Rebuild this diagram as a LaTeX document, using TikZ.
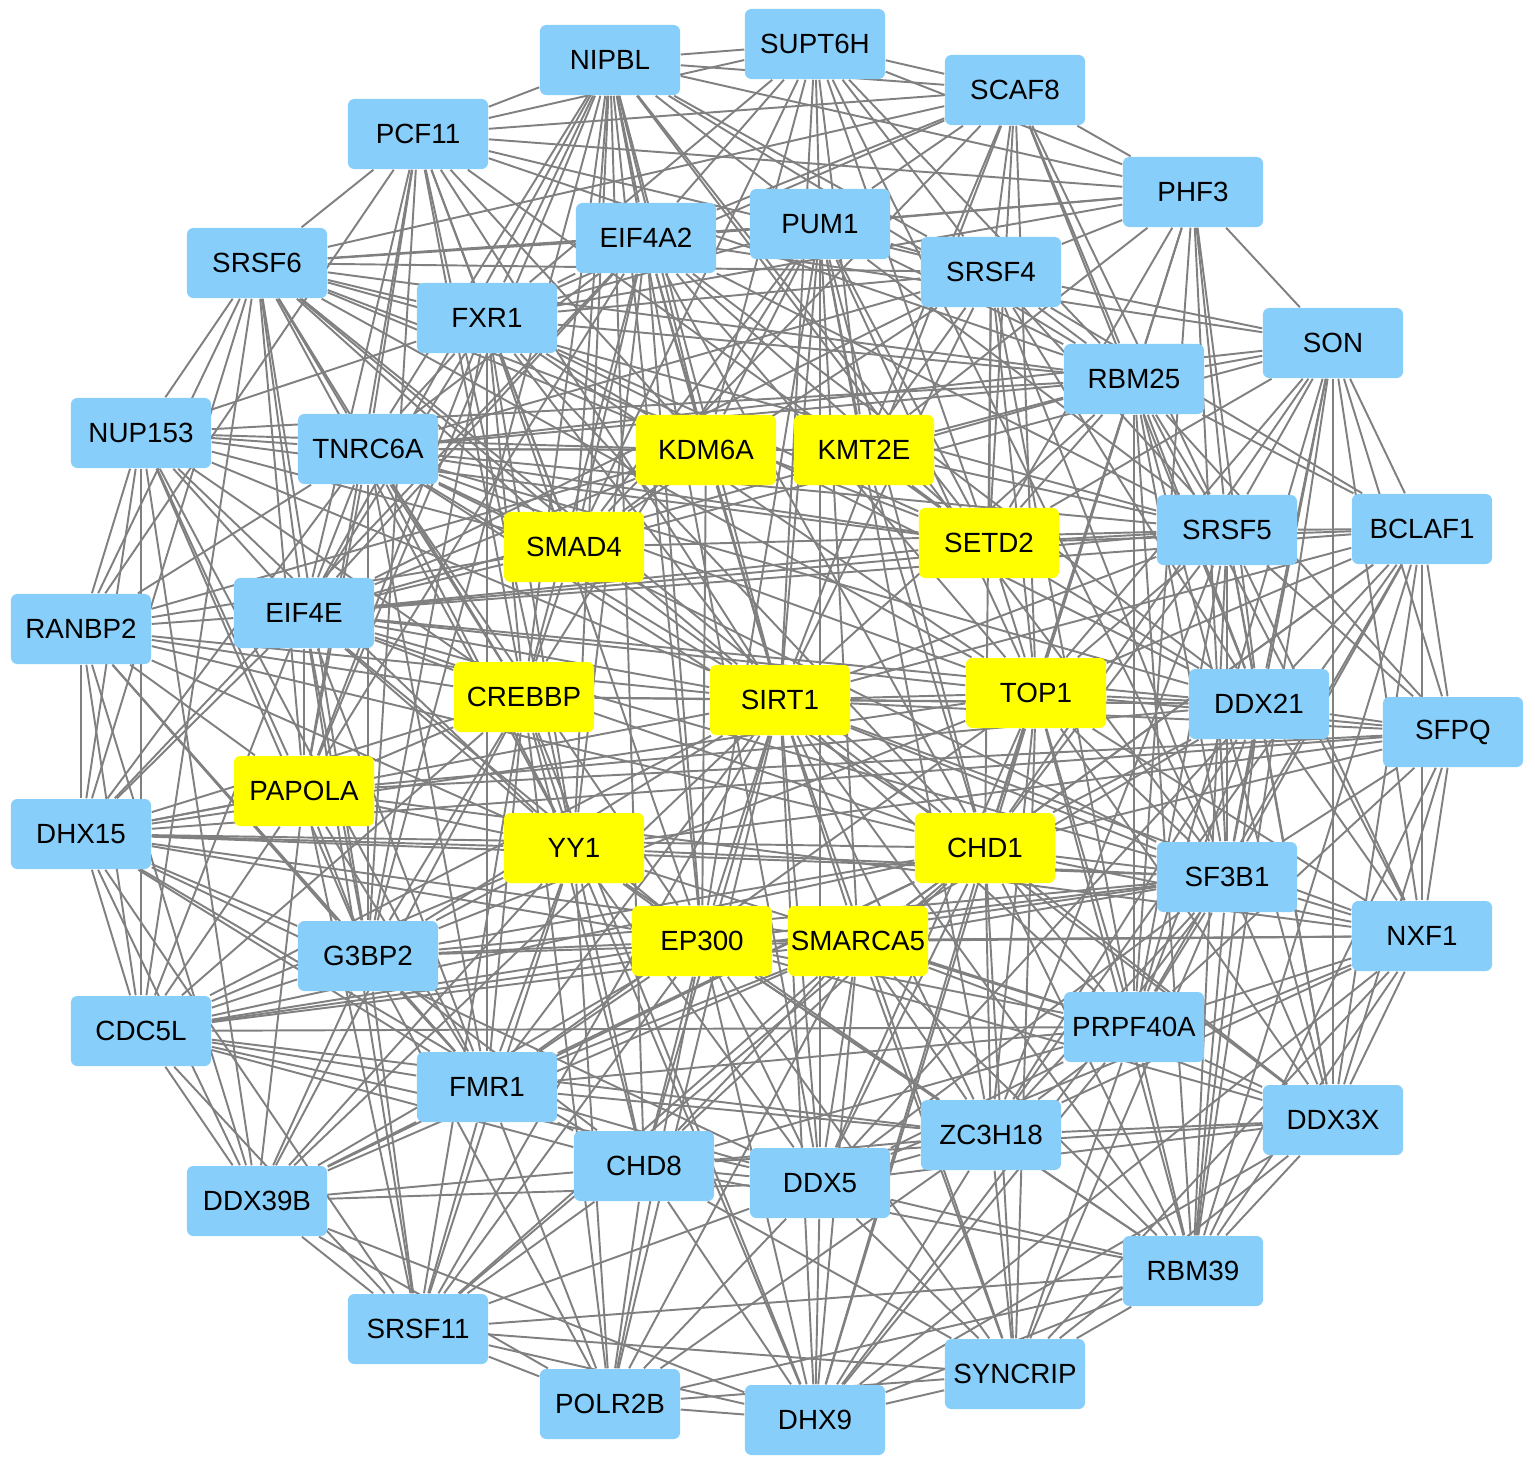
\documentclass[tikz,border=0pt]{standalone}
\usepackage{fontspec}
\setmainfont{Liberation Sans}
\usepackage{xcolor}
\usepackage{tikz}
\usetikzlibrary{backgrounds}
\tikzset{
  gene/.style={rounded corners=1.8pt, align=center, font=\fontsize{7.9}{9}\selectfont, minimum width=1.4cm, minimum height=0.7cm, inner sep=0pt, fill=#1},
  gene/.default=nodeblue,
  edge/.style={draw=edgegray, line width=0.55pt},
}
\definecolor{nodeblue}{HTML}{87CEFA}
\definecolor{hub}{HTML}{FFFF00}
\definecolor{edgegray}{HTML}{808080}

\begin{document}
\begin{tikzpicture}[x=0.01cm, y=-0.01cm]
  \useasboundingbox (0,0) rectangle (1535,1468);
  % outer ring and middle ring
  \node[gene] (nipbl) at (610,60) {NIPBL};
  \node[gene] (supt) at (815,44) {SUPT6H};
  \node[gene] (scaf) at (1015,90) {SCAF8};
  \node[gene] (pcf) at (418,134) {PCF11};
  \node[gene] (phf) at (1193,192) {PHF3};
  \node[gene] (eif4a2) at (646,238) {EIF4A2};
  \node[gene] (pum) at (820,224) {PUM1};
  \node[gene] (srsf4) at (991,272) {SRSF4};
  \node[gene] (srsf6) at (257,263) {SRSF6};
  \node[gene] (fxr) at (487,318) {FXR1};
  \node[gene] (son) at (1333,343) {SON};
  \node[gene] (rbm25) at (1134,379) {RBM25};
  \node[gene] (nup) at (141,433) {NUP153};
  \node[gene] (tnrc) at (368,449) {TNRC6A};
  \node[gene] (srsf5) at (1227,530) {SRSF5};
  \node[gene] (bclaf) at (1422,529) {BCLAF1};
  \node[gene] (ranbp) at (81,629) {RANBP2};
  \node[gene] (eif4e) at (304,613) {EIF4E};
  \node[gene] (ddx21) at (1259,704) {DDX21};
  \node[gene] (sfpq) at (1453,732) {SFPQ};
  \node[gene] (dhx15) at (81,834) {DHX15};
  \node[gene] (sf3b1) at (1227,877) {SF3B1};
  \node[gene] (nxf) at (1422,936) {NXF1};
  \node[gene] (g3bp) at (368,956) {G3BP2};
  \node[gene] (cdc5l) at (141,1031) {CDC5L};
  \node[gene] (prpf) at (1134,1027) {PRPF40A};
  \node[gene] (fmr) at (487,1087) {FMR1};
  \node[gene] (ddx3x) at (1333,1120) {DDX3X};
  \node[gene] (zc3h) at (991,1135) {ZC3H18};
  \node[gene] (chd8) at (644,1166) {CHD8};
  \node[gene] (ddx5) at (820,1183) {DDX5};
  \node[gene] (ddx39b) at (257,1201) {DDX39B};
  \node[gene] (rbm39) at (1193,1271) {RBM39};
  \node[gene] (srsf11) at (418,1329) {SRSF11};
  \node[gene] (syncrip) at (1015,1374) {SYNCRIP};
  \node[gene] (polr) at (610,1404) {POLR2B};
  \node[gene] (dhx9) at (815,1420) {DHX9};
  % hub genes
  \node[gene=hub] (kdm) at (706,450) {KDM6A};
  \node[gene=hub] (kmt) at (864,450) {KMT2E};
  \node[gene=hub] (smad) at (574,547) {SMAD4};
  \node[gene=hub] (setd) at (989,543) {SETD2};
  \node[gene=hub] (crebbp) at (524,697) {CREBBP};
  \node[gene=hub] (sirt) at (780,700) {SIRT1};
  \node[gene=hub] (top) at (1036,693) {TOP1};
  \node[gene=hub] (papola) at (304,791) {PAPOLA};
  \node[gene=hub] (yy) at (574,848) {YY1};
  \node[gene=hub] (chd1) at (985,848) {CHD1};
  \node[gene=hub] (ep300) at (702,941) {EP300};
  \node[gene=hub] (smarca) at (858,941) {SMARCA5};
  % interactions
  \begin{scope}[on background layer]
  \foreach \a/\b in {nipbl/supt, nipbl/pcf, nipbl/scaf, nipbl/phf, nipbl/srsf4, nipbl/pum, nipbl/eif4a2, nipbl/fxr, nipbl/tnrc, nipbl/eif4e, nipbl/smad, nipbl/kdm, nipbl/crebbp, nipbl/sirt, nipbl/yy, nipbl/ep300, nipbl/chd8, nipbl/g3bp, nipbl/papola, nipbl/setd, nipbl/sf3b1, nipbl/ddx5, nipbl/rbm25,
    supt/scaf, supt/pcf, supt/pum, supt/eif4a2, supt/srsf4, supt/kdm, supt/kmt, supt/sirt, supt/setd, supt/smad, supt/rbm25, supt/sf3b1, supt/phf, supt/fxr,
    scaf/phf, scaf/pcf, scaf/pum, scaf/eif4a2, scaf/srsf4, scaf/rbm25, scaf/kmt, scaf/setd, scaf/top, scaf/sirt, scaf/ddx21, scaf/srsf5, scaf/smad, scaf/fxr, scaf/srsf6,
    pcf/srsf6, pcf/phf, pcf/tnrc, pcf/eif4e, pcf/fxr, pcf/kdm, pcf/smad, pcf/sirt, pcf/setd, pcf/rbm25, pcf/srsf4, pcf/g3bp, pcf/papola, pcf/crebbp, pcf/yy, pcf/ranbp,
    phf/son, phf/srsf4, phf/rbm25, phf/srsf5, phf/ddx21, phf/setd, phf/top, phf/sf3b1, phf/fxr, phf/eif4a2, phf/kmt, phf/pum, phf/prpf,
    eif4a2/pum, eif4a2/srsf6, eif4a2/fxr, eif4a2/tnrc, eif4a2/kdm, eif4a2/smad, eif4a2/crebbp, eif4a2/sirt, eif4a2/top, eif4a2/setd, eif4a2/chd1, eif4a2/yy, eif4a2/ep300, eif4a2/ddx21, eif4a2/son, eif4a2/srsf5, eif4a2/eif4e, eif4a2/papola, eif4a2/dhx15,
    pum/srsf4, pum/srsf6, pum/fxr, pum/kdm, pum/kmt, pum/sirt, pum/smad, pum/setd, pum/top, pum/chd1, pum/ep300, pum/smarca, pum/ddx5, pum/zc3h, pum/crebbp, pum/rbm25, pum/srsf5,
    srsf4/srsf6, srsf4/fxr, srsf4/rbm25, srsf4/son, srsf4/srsf5, srsf4/bclaf, srsf4/ddx21, srsf4/sf3b1, srsf4/prpf, srsf4/setd, srsf4/kmt, srsf4/top, srsf4/sirt, srsf4/chd1, srsf4/smad, srsf4/tnrc, srsf4/eif4e,
    srsf6/nup, srsf6/tnrc, srsf6/fxr, srsf6/eif4e, srsf6/ranbp, srsf6/dhx15, srsf6/papola, srsf6/g3bp, srsf6/smad, srsf6/kdm, srsf6/crebbp, srsf6/yy, srsf6/sirt, srsf6/chd1, srsf6/setd, srsf6/rbm25, srsf6/srsf5, srsf6/cdc5l, srsf6/top,
    fxr/tnrc, fxr/kdm, fxr/smad, fxr/crebbp, fxr/sirt, fxr/eif4e, fxr/g3bp, fxr/papola, fxr/yy, fxr/top, fxr/setd, fxr/rbm25, fxr/ddx21, fxr/chd1, fxr/nup, fxr/ep300, fxr/fmr,
    son/rbm25, son/bclaf, son/srsf5, son/ddx21, son/sfpq, son/sf3b1, son/nxf, son/prpf, son/ddx3x, son/rbm39, son/setd, son/top, son/tnrc, son/chd1, son/smad,
    rbm25/srsf5, rbm25/bclaf, rbm25/ddx21, rbm25/sfpq, rbm25/sf3b1, rbm25/prpf, rbm25/setd, rbm25/top, rbm25/kmt, rbm25/sirt, rbm25/chd1, rbm25/tnrc, rbm25/nup, rbm25/rbm39, rbm25/ddx3x, rbm25/nxf, rbm25/eif4e,
    nup/ranbp, nup/tnrc, nup/eif4e, nup/dhx15, nup/cdc5l, nup/papola, nup/g3bp, nup/ddx39b, nup/kdm, nup/crebbp, nup/sirt, nup/yy, nup/smad, nup/setd, nup/fmr,
    tnrc/eif4e, tnrc/ranbp, tnrc/kdm, tnrc/kmt, tnrc/smad, tnrc/crebbp, tnrc/sirt, tnrc/setd, tnrc/top, tnrc/yy, tnrc/papola, tnrc/g3bp, tnrc/dhx15, tnrc/ddx21, tnrc/srsf5, tnrc/sf3b1, tnrc/chd1, tnrc/ep300, tnrc/fmr,
    srsf5/bclaf, srsf5/ddx21, srsf5/sfpq, srsf5/sf3b1, srsf5/nxf, srsf5/prpf, srsf5/setd, srsf5/top, srsf5/chd1, srsf5/sirt, srsf5/kmt, srsf5/smad, srsf5/eif4e, srsf5/ddx3x, srsf5/rbm39, srsf5/zc3h,
    bclaf/sfpq, bclaf/ddx21, bclaf/sf3b1, bclaf/nxf, bclaf/prpf, bclaf/ddx3x, bclaf/rbm39, bclaf/top, bclaf/chd1, bclaf/setd, bclaf/sirt, bclaf/eif4e, bclaf/smarca, bclaf/zc3h,
    ranbp/eif4e, ranbp/dhx15, ranbp/cdc5l, ranbp/papola, ranbp/g3bp, ranbp/crebbp, ranbp/smad, ranbp/yy, ranbp/fmr, ranbp/ddx39b, ranbp/kdm, ranbp/sirt, ranbp/chd1,
    eif4e/dhx15, eif4e/papola, eif4e/g3bp, eif4e/cdc5l, eif4e/smad, eif4e/crebbp, eif4e/yy, eif4e/sirt, eif4e/top, eif4e/setd, eif4e/ddx21, eif4e/kdm, eif4e/srsf11, eif4e/fmr, eif4e/chd1, eif4e/ep300, eif4e/sf3b1,
    ddx21/sfpq, ddx21/sf3b1, ddx21/nxf, ddx21/prpf, ddx21/ddx3x, ddx21/rbm39, ddx21/top, ddx21/chd1, ddx21/setd, ddx21/sirt, ddx21/smarca, ddx21/crebbp, ddx21/papola, ddx21/zc3h, ddx21/ddx5,
    sfpq/nxf, sfpq/sf3b1, sfpq/ddx3x, sfpq/rbm39, sfpq/prpf, sfpq/top, sfpq/chd1, sfpq/sirt, sfpq/papola, sfpq/yy, sfpq/dhx15,
    dhx15/papola, dhx15/g3bp, dhx15/cdc5l, dhx15/ddx39b, dhx15/srsf11, dhx15/fmr, dhx15/yy, dhx15/crebbp, dhx15/sirt, dhx15/chd1, dhx15/smarca, dhx15/ep300, dhx15/chd8, dhx15/ddx5, dhx15/top, dhx15/sf3b1,
    sf3b1/nxf, sf3b1/prpf, sf3b1/ddx3x, sf3b1/rbm39, sf3b1/zc3h, sf3b1/chd1, sf3b1/top, sf3b1/sirt, sf3b1/smarca, sf3b1/ep300, sf3b1/yy, sf3b1/g3bp, sf3b1/cdc5l, sf3b1/ddx5, sf3b1/syncrip, sf3b1/dhx9,
    nxf/prpf, nxf/ddx3x, nxf/rbm39, nxf/zc3h, nxf/chd1, nxf/top, nxf/sirt, nxf/smarca, nxf/ep300, nxf/ddx5, nxf/papola, nxf/dhx9, nxf/syncrip,
    g3bp/cdc5l, g3bp/fmr, g3bp/ddx39b, g3bp/srsf11, g3bp/yy, g3bp/crebbp, g3bp/sirt, g3bp/ep300, g3bp/chd8, g3bp/papola, g3bp/smarca, g3bp/chd1, g3bp/top, g3bp/polr,
    cdc5l/ddx39b, cdc5l/fmr, cdc5l/srsf11, cdc5l/papola, cdc5l/yy, cdc5l/crebbp, cdc5l/ep300, cdc5l/sirt, cdc5l/chd1, cdc5l/chd8, cdc5l/ddx5, cdc5l/smarca, cdc5l/prpf, cdc5l/zc3h,
    prpf/ddx3x, prpf/rbm39, prpf/zc3h, prpf/ddx5, prpf/chd1, prpf/top, prpf/sirt, prpf/smarca, prpf/ep300, prpf/chd8, prpf/syncrip, prpf/dhx9, prpf/yy, prpf/fmr,
    fmr/ddx39b, fmr/srsf11, fmr/chd8, fmr/polr, fmr/yy, fmr/ep300, fmr/smarca, fmr/crebbp, fmr/sirt, fmr/papola, fmr/ddx5, fmr/zc3h, fmr/top, fmr/chd1,
    ddx3x/rbm39, ddx3x/zc3h, ddx3x/syncrip, ddx3x/ddx5, ddx3x/chd1, ddx3x/smarca, ddx3x/ep300, ddx3x/top, ddx3x/sirt, ddx3x/chd8, ddx3x/dhx9,
    zc3h/ddx5, zc3h/rbm39, zc3h/syncrip, zc3h/chd8, zc3h/dhx9, zc3h/chd1, zc3h/smarca, zc3h/ep300, zc3h/top, zc3h/sirt, zc3h/yy, zc3h/polr,
    chd8/ddx5, chd8/srsf11, chd8/polr, chd8/dhx9, chd8/ddx39b, chd8/yy, chd8/ep300, chd8/smarca, chd8/chd1, chd8/sirt, chd8/crebbp, chd8/rbm39, chd8/syncrip,
    ddx5/dhx9, ddx5/polr, ddx5/syncrip, ddx5/rbm39, ddx5/srsf11, ddx5/ddx39b, ddx5/ep300, ddx5/smarca, ddx5/chd1, ddx5/sirt, ddx5/yy, ddx5/top,
    ddx39b/srsf11, ddx39b/polr, ddx39b/dhx9, ddx39b/yy, ddx39b/ep300, ddx39b/crebbp, ddx39b/papola, ddx39b/smarca, ddx39b/chd1, ddx39b/sirt,
    rbm39/syncrip, rbm39/dhx9, rbm39/polr, rbm39/chd1, rbm39/smarca, rbm39/top, rbm39/sirt, rbm39/ep300, rbm39/srsf11,
    srsf11/polr, srsf11/dhx9, srsf11/yy, srsf11/ep300, srsf11/crebbp, srsf11/papola, srsf11/smarca, srsf11/sirt, srsf11/chd1, srsf11/syncrip,
    syncrip/dhx9, syncrip/polr, syncrip/chd1, syncrip/smarca, syncrip/ep300, syncrip/top, syncrip/sirt,
    polr/dhx9, polr/yy, polr/ep300, polr/smarca, polr/sirt, polr/crebbp,
    dhx9/ep300, dhx9/smarca, dhx9/yy, dhx9/sirt, dhx9/chd1, dhx9/top, dhx9/crebbp,
    kdm/kmt, kdm/smad, kdm/sirt, kmt/setd, smad/crebbp, sirt/top, crebbp/yy, yy/ep300, ep300/smarca, chd1/smarca, top/chd1, setd/top, crebbp/sirt, sirt/ep300, sirt/smarca, kdm/ep300, kmt/chd1, smad/sirt, papola/crebbp, papola/yy}
    \draw[edge] (\a) -- (\b);
  \end{scope}
\end{tikzpicture}
\end{document}
